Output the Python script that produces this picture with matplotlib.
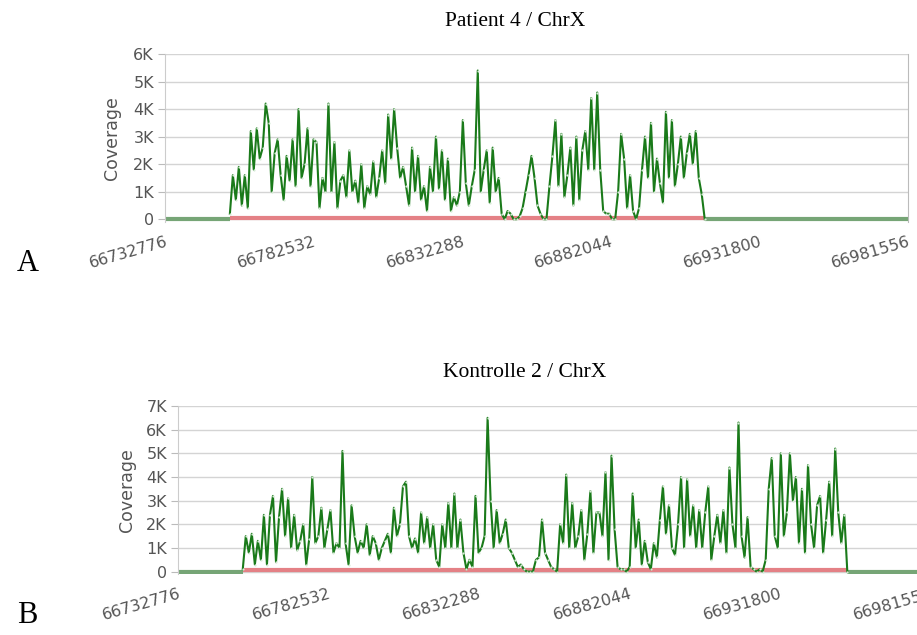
import numpy as np
import matplotlib.pyplot as plt
import matplotlib.transforms as mtrans
from matplotlib.ticker import FuncFormatter

# genomic window shown on both panels
x_start = 66732776
x_step = 49756
x_ticks = [x_start + k * x_step for k in range(6)]

# coverage in K, one value per 1 kb
top_first = 66754500
top_cov = [0.2, 1.6, 0.7, 1.9, 0.5, 1.6, 0.4, 3.2, 1.8, 3.3,
           2.2, 2.6, 4.2, 3.5, 1.0, 2.4, 2.9, 1.6, 0.7, 2.3,
           1.4, 2.9, 1.2, 4.0, 1.5, 2.0, 3.3, 1.2, 2.9, 2.8,
           0.4, 1.5, 1.0, 4.2, 1.0, 2.8, 0.4, 1.4, 1.6, 0.8,
           2.5, 1.0, 1.4, 0.6, 2.0, 0.4, 1.2, 0.9, 2.1, 0.8,
           1.5, 2.5, 1.3, 3.8, 2.2, 4.0, 2.6, 1.5, 1.9, 1.2,
           0.5, 2.6, 1.0, 2.3, 0.7, 1.2, 0.3, 1.9, 1.0, 3.0,
           1.1, 2.5, 0.7, 2.2, 0.3, 0.8, 0.5, 1.0, 3.6, 1.3,
           0.5, 1.2, 1.8, 5.4, 1.0, 1.8, 2.5, 0.6, 2.6, 1.0,
           1.5, 0.2, 0.0, 0.3, 0.2, 0.0, 0.0, 0.1, 0.4, 1.0,
           1.6, 2.3, 1.5, 0.5, 0.2, 0.0, 0.0, 1.2, 2.3, 3.6,
           1.2, 3.1, 0.8, 1.6, 2.6, 0.5, 3.0, 0.7, 2.5, 3.2,
           1.8, 4.4, 1.8, 4.6, 1.8, 0.3, 0.2, 0.2, 0.0, 0.0,
           1.0, 3.1, 2.2, 0.4, 1.6, 0.3, 0.0, 0.4, 1.8, 3.0,
           1.5, 3.5, 1.0, 2.2, 1.3, 0.6, 3.9, 1.5, 3.6, 1.2,
           2.0, 3.0, 1.5, 2.4, 3.1, 2.0, 3.2, 1.5, 0.9, 0.0]

bot_first = 66754200
bot_cov = [0.1, 1.5, 0.8, 1.6, 0.3, 1.3, 0.5, 2.4, 0.3, 2.4,
           3.2, 0.4, 2.3, 3.5, 1.5, 3.1, 1.0, 2.4, 0.9, 1.3,
           2.0, 0.3, 1.4, 4.0, 1.2, 1.5, 2.7, 1.0, 1.8, 2.6,
           0.8, 1.2, 1.0, 5.1, 1.2, 0.3, 2.8, 1.5, 0.8, 1.3,
           1.0, 2.0, 0.7, 1.5, 1.2, 0.5, 1.0, 1.3, 1.6, 0.8,
           2.7, 1.5, 2.0, 3.6, 3.8, 1.5, 1.0, 1.4, 0.8, 2.5,
           1.2, 2.3, 1.0, 2.0, 0.5, 0.2, 2.0, 1.0, 2.9, 1.0,
           3.3, 1.0, 2.2, 0.8, 0.1, 0.5, 0.2, 3.2, 0.8, 1.0,
           1.5, 6.5, 3.0, 1.0, 2.6, 1.2, 1.6, 2.2, 1.0, 0.8,
           0.5, 0.2, 0.3, 0.1, 0.0, 0.0, 0.0, 0.5, 0.6, 2.2,
           0.8, 0.5, 0.2, 0.1, 0.0, 2.0, 1.2, 4.1, 1.0, 2.9,
           1.0, 1.5, 2.6, 0.5, 1.6, 3.4, 0.8, 2.5, 2.5, 1.5,
           4.2, 0.5, 4.9, 1.8, 0.2, 0.1, 0.1, 0.0, 0.2, 3.3,
           1.0, 2.2, 0.3, 1.3, 0.4, 0.1, 1.2, 0.6, 2.2, 3.6,
           1.6, 2.8, 1.0, 0.7, 2.0, 4.0, 1.0, 3.9, 1.5, 2.8,
           1.0, 2.6, 1.0, 2.5, 3.6, 0.5, 1.5, 2.4, 1.2, 2.6,
           0.8, 4.4, 2.0, 1.0, 6.3, 1.5, 0.6, 2.3, 0.2, 0.1,
           0.0, 0.1, 0.0, 0.5, 3.5, 4.8, 1.5, 1.0, 5.0, 1.5,
           2.5, 5.0, 3.0, 4.0, 1.2, 3.5, 0.8, 4.5, 2.0, 1.0,
           2.8, 3.2, 0.8, 2.2, 3.8, 1.5, 5.2, 2.5, 1.2, 2.4,
           0.0]

low_level = 0.05  # red track under the covered region

panels = [
    dict(title="Patient 4 / ChrX", letter="A", first=top_first, cov=top_cov,
         ymax=6, rect=[165 / 917, 1 - 222 / 635, 743 / 917, 168 / 635],
         title_xy=(515, 22), ylab_pad=9),
    dict(title="Kontrolle 2 / ChrX", letter="B", first=bot_first, cov=bot_cov,
         ymax=7, rect=[178 / 917, 1 - 574 / 635, 752 / 917, 168 / 635],
         title_xy=(525, 372), ylab_pad=7),
]

fig = plt.figure(figsize=(9.17, 6.35), dpi=100)
kfmt = FuncFormatter(lambda v, p: "0" if v == 0 else f"{int(v)}K")
shift = mtrans.ScaledTranslation(11 / 100, 1 / 100, fig.dpi_scale_trans)

for p in panels:
    ax = fig.add_axes(p["rect"])
    cov = np.array(p["cov"])
    pos = p["first"] + 1000 * np.arange(len(cov))
    x_end = x_ticks[-1]

    # flat zero track outside the covered region
    ax.plot([x_start, pos[0]], [0, 0], color="#76a576", lw=3, solid_capstyle="butt")
    ax.plot([pos[-1], x_end], [0, 0], color="#76a576", lw=3, solid_capstyle="butt")
    ax.plot([pos[0], pos[-1]], [low_level, low_level], color="#e48186", lw=3,
            solid_capstyle="butt")
    ax.plot(pos, cov, color="#1a7a1a", lw=1.5, marker="o", ms=1.6,
            mfc="#d8ecd8", mec="none")

    ax.set_xlim(x_start, x_end)
    ax.set_ylim(-0.1, p["ymax"])
    ax.set_yticks(range(p["ymax"] + 1))
    ax.yaxis.set_major_formatter(kfmt)
    ax.grid(axis="y", color="#d4d4d4", lw=1)
    ax.set_axisbelow(True)
    ax.set_xticks(x_ticks)
    ax.set_xticklabels([str(t) for t in x_ticks], rotation=16, ha="right",
                       rotation_mode="anchor", color="#555555", fontsize=11.5)
    for lab in ax.get_xticklabels():
        lab.set_transform(lab.get_transform() + shift)
    ax.tick_params(axis="x", length=0, pad=9)
    ax.tick_params(axis="y", length=5, color="#bbbbbb", labelcolor="#555555",
                   labelsize=11.5, pad=3)
    for s in ["top", "bottom"]:
        ax.spines[s].set_visible(False)
    ax.spines["left"].set_color("#cccccc")
    ax.spines["right"].set_color("#bbbbbb")
    ax.set_ylabel("Coverage", color="#555555", fontsize=12.5, labelpad=p["ylab_pad"])

    tx, ty = p["title_xy"]
    fig.text(tx / 917, 1 - ty / 635, p["title"], family="Liberation Serif",
             fontsize=15.5, ha="center", va="center")
    fig.text(0.03, p["rect"][1] - 0.065, p["letter"], family="Liberation Serif",
             fontsize=22, ha="center", va="center")

fig.savefig("out.png", dpi=100)
